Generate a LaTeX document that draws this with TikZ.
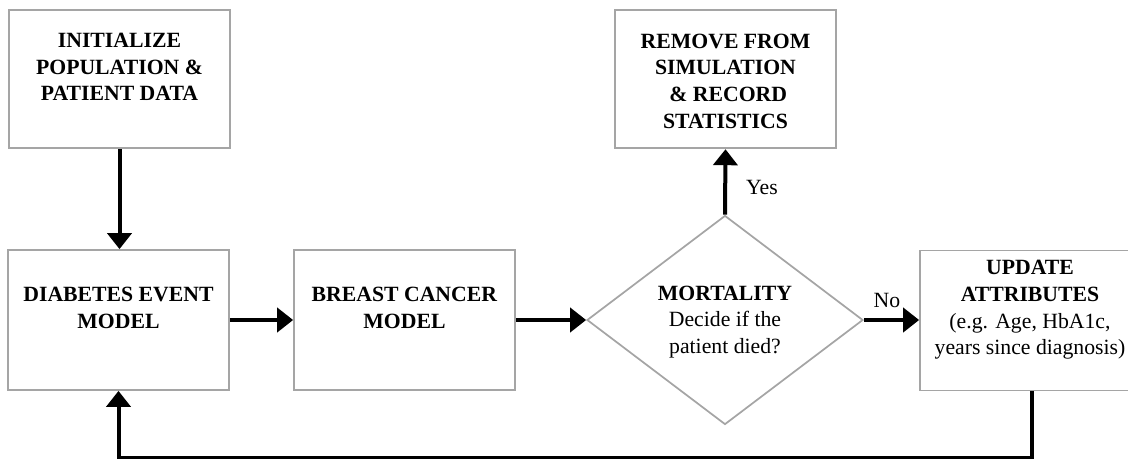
\documentclass[tikz,border=0pt]{standalone}
\usepackage{fontspec}
\setmainfont{Liberation Serif}
\usetikzlibrary{arrows.meta,shapes.geometric}
\definecolor{boxgray}{RGB}{165,165,165}
\tikzset{
  x=0.75pt, y=-0.75pt,
  every node/.style={font=\fontsize{16.3}{20}\selectfont},
  box/.style={draw=boxgray, line width=1.3pt, rectangle, inner sep=0pt, minimum width=165.75pt, minimum height=104pt},
  dec/.style={draw=boxgray, line width=1.3pt, diamond, inner sep=0pt, minimum width=207pt, minimum height=156.75pt},
  txt/.style={align=center, inner sep=0pt},
  arr/.style={line width=3pt, -{Triangle[width=18pt,length=12pt]}},
  lbl/.style={inner sep=0pt}
}
\begin{document}
\begin{tikzpicture}
\useasboundingbox (0,0) rectangle (1128,458);
\clip (0,0) rectangle (1128,458);
% boxes
\node[box] (init) at (119.5,79) {};
\node[box, minimum height=105pt] (diab) at (118.5,320) {};
\node[box, minimum height=105pt] (breast) at (404.5,320) {};
\node[box] (rem) at (725.5,79) {};
\node[box, minimum width=168pt, minimum height=105pt] (upd) at (1032,320.5) {};
\node[dec] (dia) at (725,320) {};
% texts
\node[txt] (tinit) at (119.5,67) {\textbf{INITIALIZE}\\\textbf{POPULATION \&}\\\textbf{PATIENT DATA}};
\node[txt] (tdiab) at (118.5,308) {\textbf{DIABETES EVENT}\\\textbf{MODEL}};
\node[txt] (tbreast) at (404.5,308) {\textbf{BREAST CANCER}\\\textbf{MODEL}};
\node[txt] (trem) at (725.5,81) {\textbf{REMOVE FROM}\\\textbf{SIMULATION}\\\textbf{\ \& RECORD}\\\textbf{STATISTICS}};
\node[txt] (tdia) at (725,322) {\textbf{MORTALITY}\\Decide if the\\patient died?};
\node[txt] (tupd) at (1030,310) {\textbf{UPDATE}\\\textbf{ATTRIBUTES}\\(e.g. Age, HbA1c,\\years since diagnosis)};
% connectors
\draw[arr] (init.south) -- (init.south |- diab.north);
\draw[arr] (diab.east) -- (breast.west);
\draw[arr] (breast.east) -- (dia.west);
\draw[arr] (dia.east) -- (dia.east -| upd.west);
\draw[arr] (dia.north) -- (rem.south);
\coordinate (fb) at (1032,458);
\draw[arr] (upd.south) -- (fb) -| (diab.south);
% labels
\node[lbl] (no) at (887,300) {No};
\node[lbl] (yes) at (762,187) {Yes};
\end{tikzpicture}
\end{document}
